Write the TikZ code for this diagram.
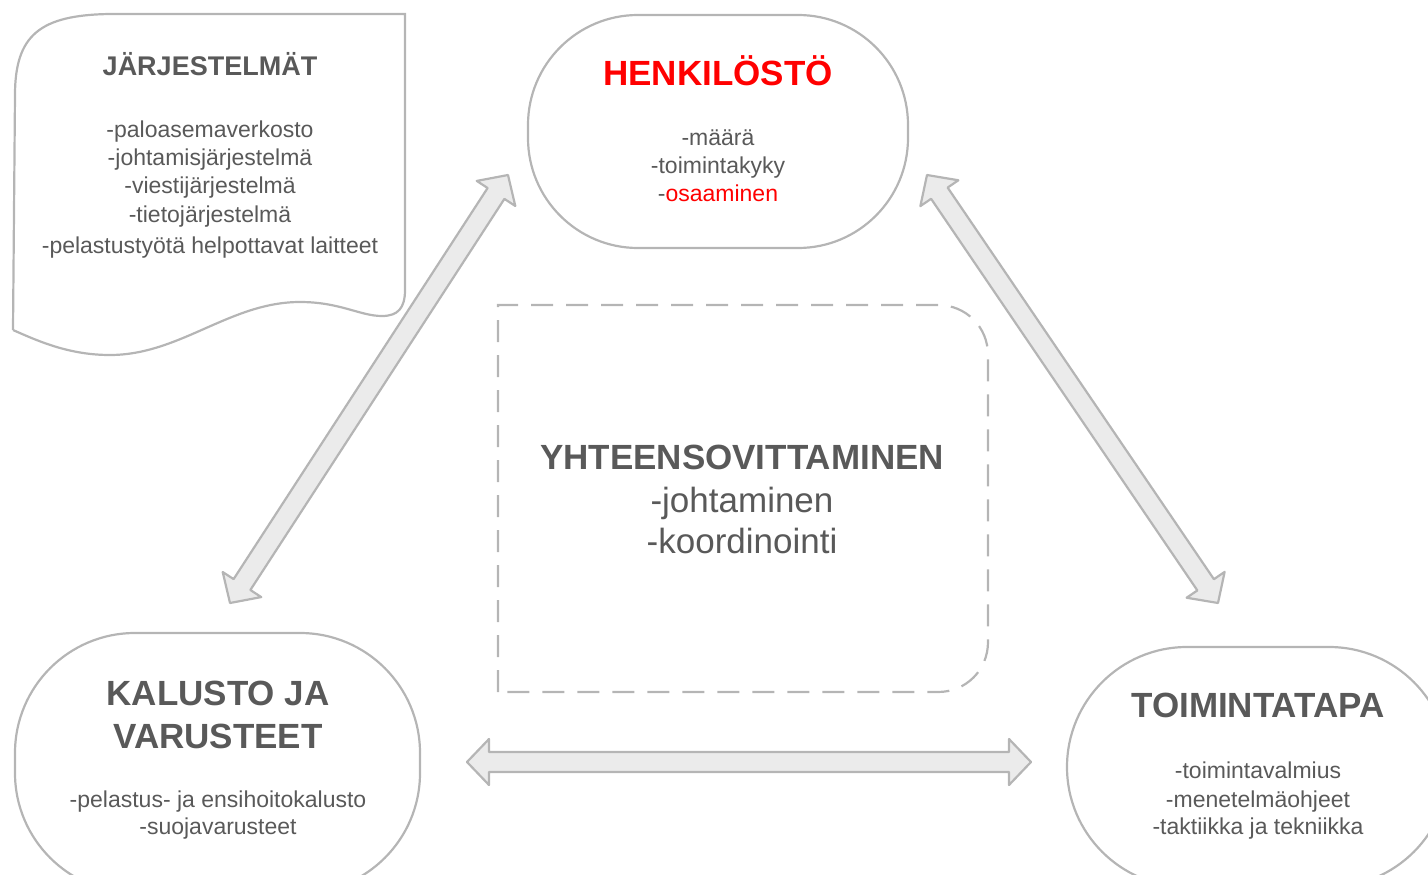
\documentclass[tikz,border=0pt]{standalone}
\usepackage{fontspec}
\setmainfont{Liberation Sans}
\usetikzlibrary{calc}
\definecolor{txtgray}{HTML}{595959}
\definecolor{linegray}{HTML}{B5B5B5}
\definecolor{arrowfill}{HTML}{EBEBEB}
\definecolor{hred}{HTML}{FF0000}
\tikzset{pill/.style={draw=linegray, line width=2.2pt, rounded corners=#1, inner sep=0pt},
%default corner radius
pill/.default={110pt},
dashbox/.style={draw=linegray, line width=2.2pt, dash pattern=on 22pt off 13pt},
blockarrow/.style={draw=linegray, fill=arrowfill, line width=2.2pt, line join=round},
title/.style={anchor=base, text=txtgray, font=\fontsize{35}{42}\selectfont\bfseries},
item/.style={anchor=base, text=txtgray, font=\fontsize{23}{28}\selectfont}}

\begin{document}
\begin{tikzpicture}[x=1pt,y=-1pt]

\useasboundingbox (0,0) rectangle (1428,875);
\clip (0,0) rectangle (1428,875);

% shapes
\draw[draw=linegray, line width=2.2pt] (13,330) -- (15,95)
    .. controls (15,35) and (40,15) .. (110,14) -- (405,14) -- (405,290)
    .. controls (405,308) and (398,316) .. (382,316)
    .. controls (360,316) and (340,302) .. (300,302)
    .. controls (230,302) and (180,355) .. (110,355)
    .. controls (70,355) and (40,342) .. (13,330);

\node[pill, minimum width=380pt, minimum height=233pt] (henk) at (718,131.5) {};
\node[pill=120pt, minimum width=405pt, minimum height=260pt] (kalu) at (217.5,763) {};
\node[pill=120pt, minimum width=382pt, minimum height=240pt] (toim) at (1258,767) {};

\draw[dashbox] (498,692) -- (498,305) -- (938,305)
    .. controls (966,305) and (988,327) .. (988,355) -- (988,642)
    .. controls (988,670) and (966,692) .. (938,692) -- cycle;

% texts
\node[title, font=\fontsize{27}{32}\selectfont\bfseries] (jarj) at (210,76) {JÄRJESTELMÄT};
\foreach \t/\y [count=\i] in {paloasemaverkosto/137, johtamisjärjestelmä/165,
    viestijärjestelmä/193, tietojärjestelmä/222, pelastustyötä helpottavat laitteet/253}
    \node[item] (jarj\i) at (210,\y) {-\t};

\node[title, text=hred] (henkt) at (718,86) {HENKILÖSTÖ};
\node[item] (henk1) at (718,146) {-määrä};
\node[item] (henk2) at (718,173) {-toimintakyky};
\node[item] (henk3) at (718,201) {-\textcolor{hred}{osaaminen}};

\node[title] (yht) at (742,469) {YHTEENSOVITTAMINEN};
\node[item, font=\fontsize{35}{42}\selectfont] (yht1) at (742,512) {-johtaminen};
\node[item, font=\fontsize{35}{42}\selectfont] (yht2) at (742,553) {-koordinointi};

\node[title] (kalut) at (218,705) {KALUSTO JA};
\node[title] (kalut2) at (218,748) {VARUSTEET};
\node[item] (kalu1) at (218,807) {-pelastus- ja ensihoitokalusto};
\node[item] (kalu2) at (218,834) {-suojavarusteet};

\node[title] (toimt) at (1258,717) {TOIMINTATAPA};
\foreach \t/\y [count=\i] in {toimintavalmius/778, menetelmäohjeet/807, taktiikka ja tekniikka/834}
    \node[item] (toim\i) at (1258,\y) {-\t};

% arrow ends
\coordinate (la1) at (230,603);
\coordinate (la2) at (508,175);
\coordinate (ra1) at (927,175);
\coordinate (ra2) at (1218,603);
\coordinate (ha1) at (467,762);
\coordinate (ha2) at (1031,762);

\foreach \a/\b in {la1/la2, ra1/ra2, ha1/ha2}
    \draw[blockarrow] (\a) -- ($(\a)!22pt!(\b)!23pt!90:(\b)$) -- ($(\a)!22pt!(\b)!10pt!90:(\b)$)
        -- ($(\b)!22pt!(\a)!10pt!-90:(\a)$) -- ($(\b)!22pt!(\a)!23pt!-90:(\a)$) -- (\b)
        -- ($(\b)!22pt!(\a)!23pt!90:(\a)$) -- ($(\b)!22pt!(\a)!10pt!90:(\a)$)
        -- ($(\a)!22pt!(\b)!10pt!-90:(\b)$) -- ($(\a)!22pt!(\b)!23pt!-90:(\b)$) -- cycle;

\end{tikzpicture}
\end{document}
